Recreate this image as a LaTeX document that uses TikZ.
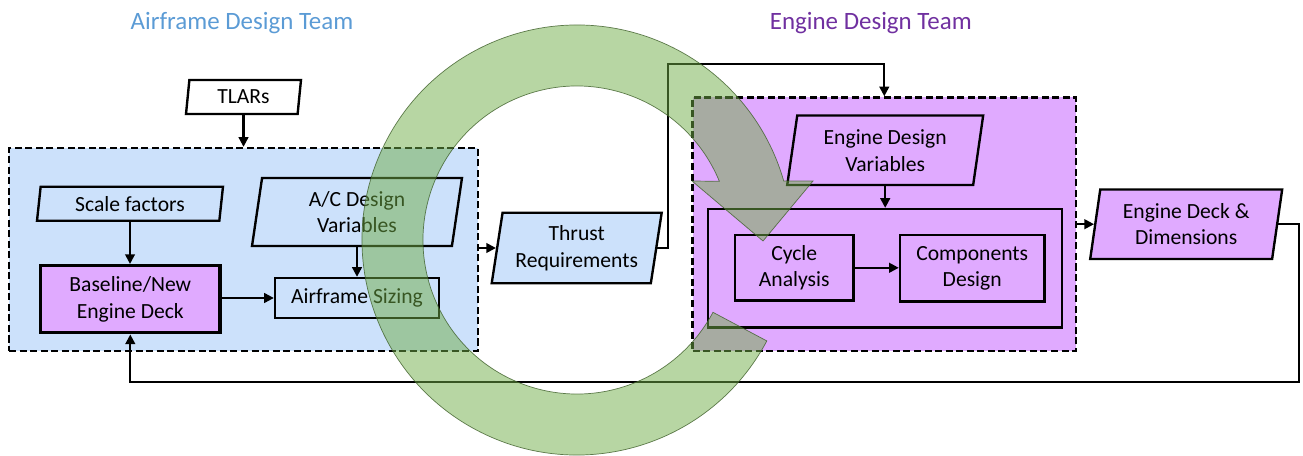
\documentclass[tikz,border=0pt]{standalone}
\usepackage{fontspec}
\setmainfont{Carlito}
\usetikzlibrary{shapes.geometric,arrows.meta,calc}
\definecolor{teamblue}{HTML}{5B9BD5}
\definecolor{teampurple}{HTML}{7030A0}
\definecolor{airfill}{HTML}{CCE1FB}
\definecolor{engfill}{HTML}{E0AAFF}
\definecolor{loopgreen}{HTML}{70AD47}
\definecolor{loopedge}{HTML}{3E5F2A}

\begin{document}
\begin{tikzpicture}[x=0.02cm,y=-0.02cm,
  txt/.style={font=\fontsize{12.3}{15.2}\selectfont, align=center, text=black, inner sep=0pt},
  title/.style={font=\fontsize{14.2}{17}\selectfont, inner sep=0pt, anchor=base},
  iobox/.style={txt, trapezium, trapezium left angle=76.5, trapezium right angle=103.5,
    trapezium stretches body, draw, line width=1.35pt},
  procbox/.style={txt, rectangle, draw, line width=1.35pt},
  teambox/.style={rectangle, draw, line width=1.35pt, dash pattern=on 4pt off 2pt, inner sep=0pt},
  conn/.style={draw, line width=1.2pt, -{Triangle[length=5.5pt,width=5.5pt]}}
]
\useasboundingbox (0,0) rectangle (1303,456);

% team titles
\node[title, text=teamblue] (ttlair) at (242,29.3) {Airframe Design Team};
\node[title, text=teampurple] (ttleng) at (870.8,29.3) {Engine Design Team};

% team areas
\node[teambox, fill=airfill, minimum width=9.38cm, minimum height=4.06cm] (abox) at (243.5,249.5) {};
\node[teambox, fill=engfill, minimum width=7.67cm, minimum height=5.07cm] (ebox) at (884.3,224.2) {};

% airframe side
\node[iobox, fill=white, minimum width=2.30cm, minimum height=0.68cm] (tlars) at (243.5,97) {TLARs};
\node[iobox, fill=airfill, minimum width=3.72cm, minimum height=0.68cm] (scale) at (130,203.7) {Scale factors};
\node[iobox, fill=airfill, minimum width=4.20cm, minimum height=1.36cm] (acvar) at (357,212) {A/C Design\\Variables};
\node[procbox, fill=engfill, line width=2pt, minimum width=3.59cm, minimum height=1.34cm] (base) at (130.3,299.2) {Baseline/New\\Engine Deck};
\node[procbox, fill=airfill, minimum width=3.28cm, minimum height=0.80cm] (sizing) at (357,298) {Airframe Sizing};
\node[iobox, fill=airfill, minimum width=3.40cm, minimum height=1.41cm] (thrust) at (576.7,248) {Thrust\\Requirements};

% engine side
\node[iobox, fill=engfill, minimum width=3.92cm, minimum height=1.39cm] (edv) at (885.2,150.3) {Engine Design\\Variables};
\node[procbox, fill=engfill, minimum width=7.08cm, minimum height=2.37cm] (inner) at (885,268.3) {};
\node[procbox, fill=engfill, minimum width=2.37cm, minimum height=1.31cm] (cycle) at (794.2,267.8) {Cycle\\Analysis};
\node[procbox, fill=engfill, minimum width=2.89cm, minimum height=1.33cm] (comp) at (972.2,268.3) {Components\\Design};
\node[iobox, fill=engfill, minimum width=3.84cm, minimum height=1.39cm] (edd) at (1186.2,224.2) {Engine Deck \&\\Dimensions};

% connectors
\coordinate (thrustup) at (668,64);
\coordinate (feedback) at (1299,382);
\draw[conn] (tlars.south) -- (tlars.south |- abox.north);
\draw[conn] (scale.south) -- (scale.south |- base.north);
\draw[conn] (acvar.south) -- (acvar.south |- sizing.north);
\draw[conn] (base.east |- sizing.west) -- (sizing.west);
\draw[conn] (abox.east |- thrust.west) -- (thrust.west);
\draw[conn] (thrust.east) -- (thrust.east -| thrustup) -- (thrustup) -| (ebox.north);
\draw[conn] (edv.south) -- (edv.south |- inner.north);
\draw[conn] (cycle.east) -- (cycle.east -| comp.west);
\draw[conn] (ebox.east |- edd.west) -- (edd.west);
\draw[conn] (edd.east) -| (feedback) -| (base.south);

% iteration loop arrow laid over the workflow
\coordinate (C) at (577,240);
\filldraw[fill=loopgreen, fill opacity=0.5, draw=loopedge, draw opacity=0.8, line width=0.4pt]
  ($(C)+(28:154)$) -- ($(C)+(28:215)$)
  arc[start angle=28, end angle=344.1, radius=215]
  -- (813,181) -- (763,241) -- (692,181)
  -- ($(C)+(337.6:154)$)
  arc[start angle=337.6, end angle=28, radius=154] -- cycle;
\end{tikzpicture}
\end{document}
